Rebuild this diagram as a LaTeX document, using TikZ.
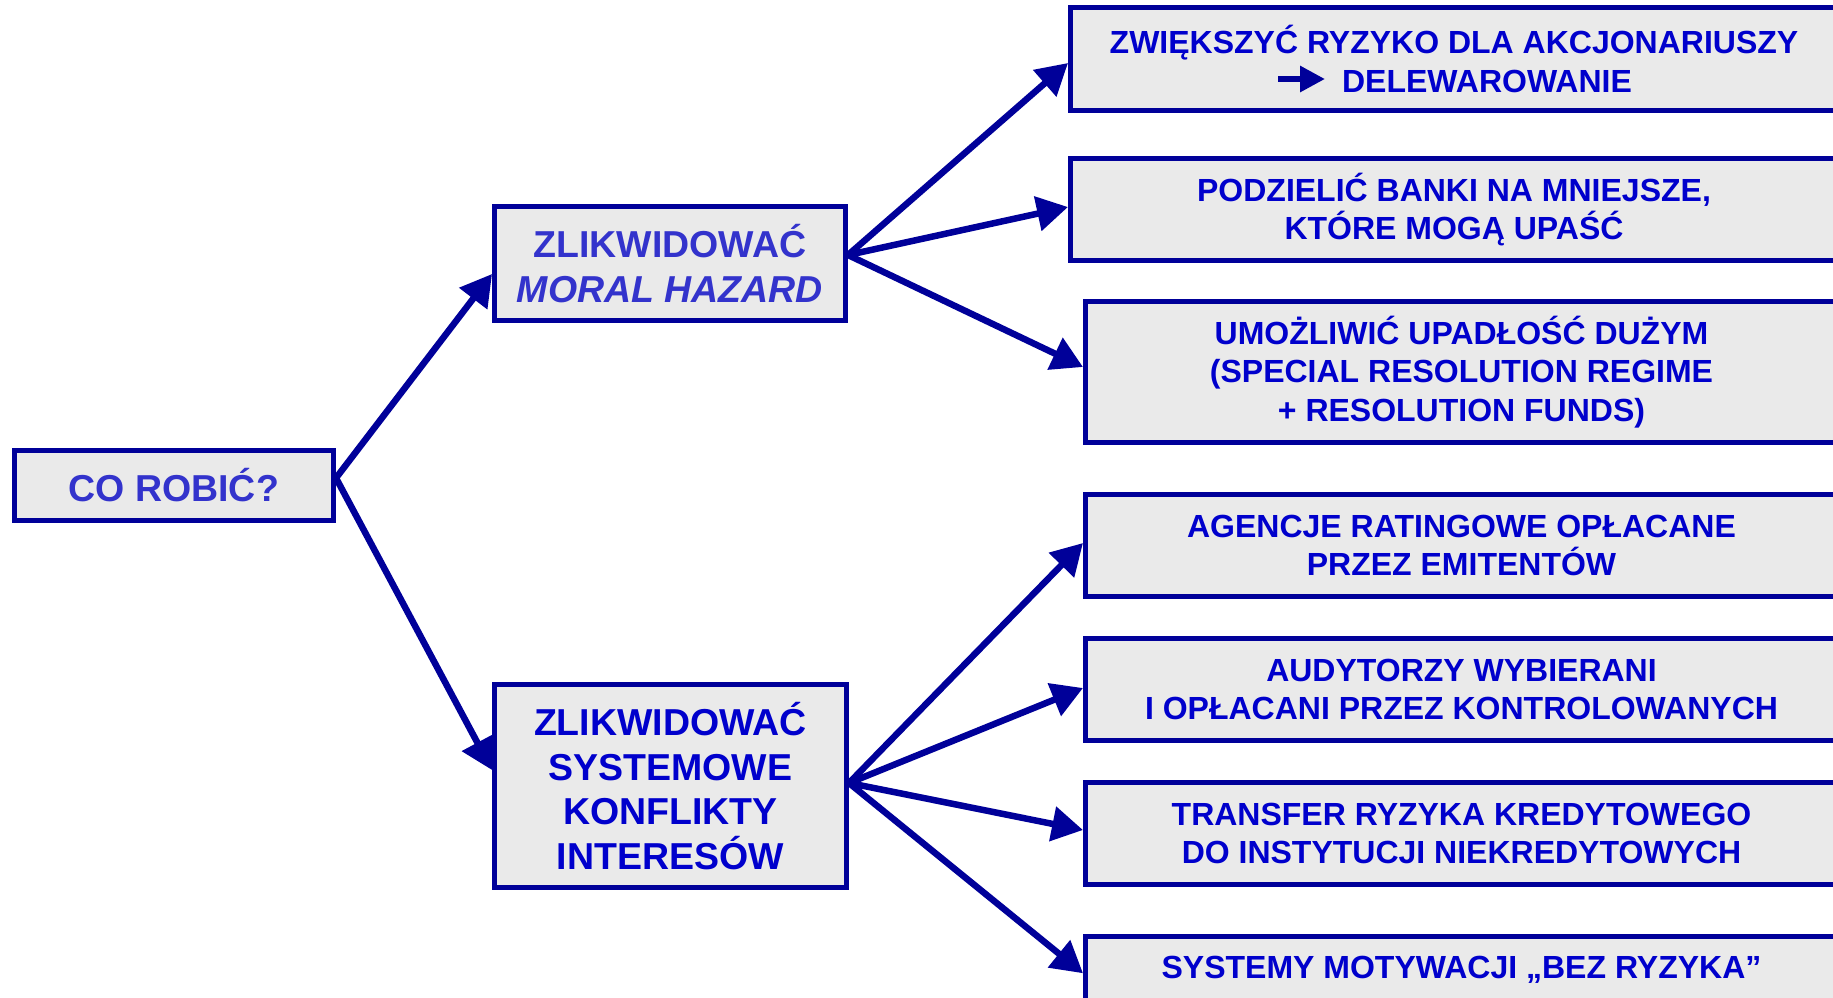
\documentclass[tikz,border=0pt]{standalone}
\usepackage{fontspec}
\setmainfont{Liberation Sans}
\usetikzlibrary{arrows.meta,calc}
\definecolor{navy}{HTML}{000099}
\definecolor{txtblue}{HTML}{0000CC}
\definecolor{lightblue}{HTML}{3333CC}
\definecolor{boxgray}{HTML}{EAEAEA}
\tikzset{
  box/.style={draw=navy, fill=boxgray, line width=5pt, rectangle, inner sep=0pt,
    align=center, text=txtblue, font=\bfseries\fontsize{32}{38.6}\selectfont},
  bigbox/.style={box, font=\bfseries\fontsize{37.5}{44.7}\selectfont},
  link/.style={navy, line width=6.5pt, -{Triangle[length=31pt,width=34pt]}},
}
\begin{document}
\begin{tikzpicture}[x=1pt,y=-1pt]
\useasboundingbox (0,0) rectangle (1833,997);
\clip (0,0) rectangle (1833,997);

% left column
\node[bigbox, text=lightblue, minimum width=319.5pt, minimum height=70pt] (co) at (173.75,485.5) {CO ROBIĆ?};
\node[bigbox, text=lightblue, minimum width=351pt, minimum height=114pt] (mh) at (670,263.5) {ZLIKWIDOWAĆ\\\textit{MORAL HAZARD}};
\node[bigbox, minimum width=352pt, minimum height=203pt] (sk) at (670.5,786) {ZLIKWIDOWAĆ\\SYSTEMOWE\\KONFLIKTY\\INTERESÓW};

% right column
\node[box, minimum width=767pt, minimum height=103pt] (r1) at (1454,59) {ZWIĘKSZYĆ RYZYKO DLA AKCJONARIUSZY\\\hspace*{66pt}DELEWAROWANIE};
\node[box, minimum width=767pt, minimum height=102pt] (r2) at (1454,209.5) {PODZIELIĆ BANKI NA MNIEJSZE,\\KTÓRE MOGĄ UPAŚĆ};
\node[box, minimum width=752pt, minimum height=141pt] (r3) at (1461.5,372) {UMOŻLIWIĆ UPADŁOŚĆ DUŻYM\\(SPECIAL RESOLUTION REGIME\\+ RESOLUTION FUNDS)};
\node[box, minimum width=752pt, minimum height=102pt] (r4) at (1461.5,545.5) {AGENCJE RATINGOWE OPŁACANE\\PRZEZ EMITENTÓW};
\node[box, minimum width=752pt, minimum height=102pt] (r5) at (1461.5,689.5) {AUDYTORZY WYBIERANI\\I OPŁACANI PRZEZ KONTROLOWANYCH};
\node[box, minimum width=752pt, minimum height=102pt] (r6) at (1461.5,833.5) {TRANSFER RYZYKA KREDYTOWEGO\\DO INSTYTUCJI NIEKREDYTOWYCH};
\node[box, minimum width=752pt, minimum height=67.5pt] (r7) at (1461.5,970.25) {SYSTEMY MOTYWACJI „BEZ RYZYKA”};

% arrow glyph in front of DELEWAROWANIE
\coordinate (dt) at ($(r1.center)+(-176,20)$);
\draw[navy, line width=6pt, -{Triangle[length=25pt,width=25pt]}] (dt) -- ++(47,0);

% connectors
\draw[link] ([yshift=7.5pt]co.east) -- ([yshift=-10.5pt]mh.west);
\draw[link] ([yshift=7.5pt]co.east) -- ([yshift=16pt]sk.west);

\draw[link] ([yshift=8.5pt]mh.east) -- ([yshift=-4pt]r1.west);
\draw[link] ([yshift=8.5pt]mh.east) -- ([yshift=2.5pt]r2.west);
\draw[link] ([yshift=8.5pt]mh.east) -- ([yshift=5pt]r3.west);

\draw[link] ([yshift=3pt]sk.east) -- ([yshift=2.5pt]r4.west);
\draw[link] ([yshift=3pt]sk.east) -- ([yshift=1.5pt]r5.west);
\draw[link] ([yshift=3pt]sk.east) -- ([yshift=3.5pt]r6.west);
\draw[link] ([yshift=3pt]sk.east) -- ([yshift=-3pt]r7.west);
\end{tikzpicture}
\end{document}
